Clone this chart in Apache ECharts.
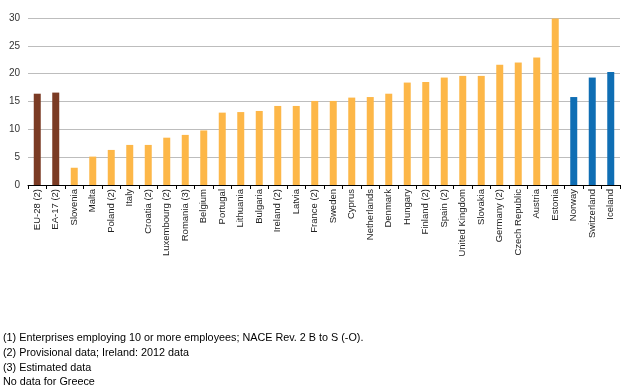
<!DOCTYPE html>
<html><head><meta charset="utf-8">
<script src="https://cdn.jsdelivr.net/npm/echarts@6/dist/echarts.min.js"></script>
<style>html,body{margin:0;padding:0;background:#fff}#c{width:631px;height:392px}</style>
</head><body><div id="c"></div>
<script>
const categories = ["EU-28 (2)","EA-17 (2)","Slovenia","Malta","Poland (2)","Italy","Croatia (2)","Luxembourg (2)","Romania (3)","Belgium","Portugal","Lithuania","Bulgaria","Ireland (2)","Latvia","France (2)","Sweden","Cyprus","Netherlands","Denmark","Hungary","Finland (2)","Spain (2)","United Kingdom","Slovakia","Germany (2)","Czech Republic","Austria","Estonia","Norway","Switzerland","Iceland"];
const values = [16.4,16.6,3.1,5.1,6.3,7.2,7.2,8.5,9.0,9.8,13.0,13.1,13.3,14.2,14.2,15.1,15.1,15.7,15.8,16.4,18.4,18.5,19.3,19.6,19.6,21.6,22.0,22.9,29.9,15.8,19.3,20.3];
const groups = ["agg","agg","eu","eu","eu","eu","eu","eu","eu","eu","eu","eu","eu","eu","eu","eu","eu","eu","eu","eu","eu","eu","eu","eu","eu","eu","eu","eu","eu","efta","efta","efta"];
const yTicks = [0,5,10,15,20,25,30];
const footnotes = ["(1) Enterprises employing 10 or more employees; NACE Rev. 2 B to S (-O).","(2) Provisional data; Ireland: 2012 data","(3) Estimated data","No data for Greece"];
const colors = {agg:"#7B3B24", eu:"#FDB748", efta:"#0F6EB4"};

const chart = echarts.init(document.getElementById('c'), null, {renderer:'canvas'});
chart.setOption({
  animation:false,
  grid:{left:28,right:11,top:18,bottom:207,containLabel:false},
  xAxis:{type:'category',data:categories,boundaryGap:true,
    axisLine:{lineStyle:{color:'#000',width:1}},
    axisTick:{show:true,length:4,alignWithLabel:false,lineStyle:{color:'#000'}},
    axisLabel:{rotate:90,interval:0,fontFamily:'Liberation Sans, Arial',fontSize:9.5,color:'#222',margin:4}},
  yAxis:{type:'value',min:yTicks[0],max:yTicks[yTicks.length-1],interval:5,
    axisLine:{show:false},axisTick:{show:false},
    splitLine:{lineStyle:{color:'#bdbdbd',width:1}},
    axisLabel:{fontFamily:'Liberation Sans, Arial',fontSize:10,color:'#333',margin:8}},
  series:[{type:'bar',barWidth:7,
    data:values.map((v,i)=>({value:v,itemStyle:{color:colors[groups[i]]}}))}],
  graphic:footnotes.map((t,i)=>({type:'text',left:3,top:333+i*14.6,
    style:{text:t,font:'10.8px "Liberation Sans", Arial',fill:'#000'}}))
});
</script></body></html>
